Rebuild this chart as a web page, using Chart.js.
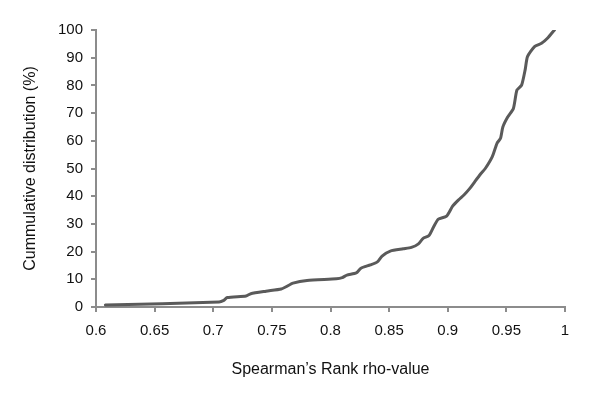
<!DOCTYPE html>
<html>
<head>
<meta charset="utf-8">
<script src="https://cdn.jsdelivr.net/npm/chart.js@4"></script>
<style>
  html, body { margin: 0; padding: 0; background: #fff; }
  #wrap { width: 600px; height: 393px; }
</style>
</head>
<body>
<div id="wrap"><canvas id="cdfChart" width="600" height="393"></canvas></div>
<script>
// values
const rhoValues = [0.608, 0.705, 0.709, 0.712, 0.728, 0.732, 0.745, 0.758, 0.762, 0.768,
  0.780, 0.805, 0.810, 0.814, 0.822, 0.826, 0.834, 0.840, 0.844, 0.851,
  0.862, 0.869, 0.875, 0.879, 0.884, 0.888, 0.892, 0.899, 0.904, 0.909,
  0.914, 0.919, 0.923, 0.928, 0.932, 0.938, 0.942, 0.945, 0.947, 0.951,
  0.956, 0.959, 0.963, 0.966, 0.968, 0.974, 0.980, 0.985, 0.991];
const cumPercent = [0.7, 1.8, 2.4, 3.4, 4.0, 4.8, 5.7, 6.5, 7.3, 8.6,
  9.6, 10.2, 10.6, 11.5, 12.3, 14.0, 15.2, 16.3, 18.4, 20.2,
  21.0, 21.5, 22.8, 24.8, 25.8, 29.0, 31.7, 32.8, 36.3, 38.6,
  40.5, 42.9, 45.2, 48.0, 50.0, 54.3, 59.1, 60.9, 65.0, 68.5,
  71.7, 78.3, 80.1, 85.6, 90.4, 94.0, 95.2, 97.0, 100];
const xMin = 0.6, xMax = 1, xStep = 0.05;
const yMin = 0, yMax = 100, yStep = 10;
const xTitle = 'Spearman\u2019s Rank rho-value';
const yTitle = 'Cummulative distribution (%)';

const axisGrey = '#8c8c8c';
const textColor = '#111';
const tickFont = { family: 'Liberation Sans, Arial, sans-serif', size: 15 };
const titleFont = { family: 'Liberation Sans, Arial, sans-serif', size: 16 };

const points = rhoValues.map((x, i) => ({ x: x, y: cumPercent[i] }));

new Chart(document.getElementById('cdfChart').getContext('2d'), {
  type: 'line',
  data: {
    datasets: [{
      data: points,
      borderColor: '#5a5a5a',
      borderWidth: 3,
      pointRadius: 0,
      tension: 0.2,
      fill: false,
      borderJoinStyle: 'round',
      borderCapStyle: 'round'
    }]
  },
  options: {
    responsive: false,
    animation: false,
    layout: { padding: { left: 0, right: 35, top: 30, bottom: 0 } },
    plugins: { legend: { display: false }, tooltip: { enabled: false } },
    scales: {
      x: {
        type: 'linear',
        min: xMin, max: xMax,
        afterFit: (s) => { s.height = 86; },
        ticks: {
          stepSize: xStep, color: textColor, font: tickFont, padding: 10, maxRotation: 0,
          callback: (v) => String(Number(v.toFixed(2)))
        },
        grid: { drawOnChartArea: false, drawTicks: true, tickLength: 5, color: axisGrey, lineWidth: 2 },
        border: { color: axisGrey, width: 2 },
        title: { display: true, text: xTitle, color: textColor, font: titleFont, padding: { top: 14, bottom: 14 } }
      },
      y: {
        min: yMin, max: yMax,
        afterFit: (s) => { s.width = 96; },
        ticks: { stepSize: yStep, color: textColor, font: tickFont, padding: 8 },
        grid: { drawOnChartArea: false, drawTicks: true, tickLength: 5, color: axisGrey, lineWidth: 2 },
        border: { color: axisGrey, width: 2 },
        title: { display: true, text: yTitle, color: textColor, font: titleFont, padding: { top: 21, bottom: 21 } }
      }
    }
  }
});
</script>
</body>
</html>
